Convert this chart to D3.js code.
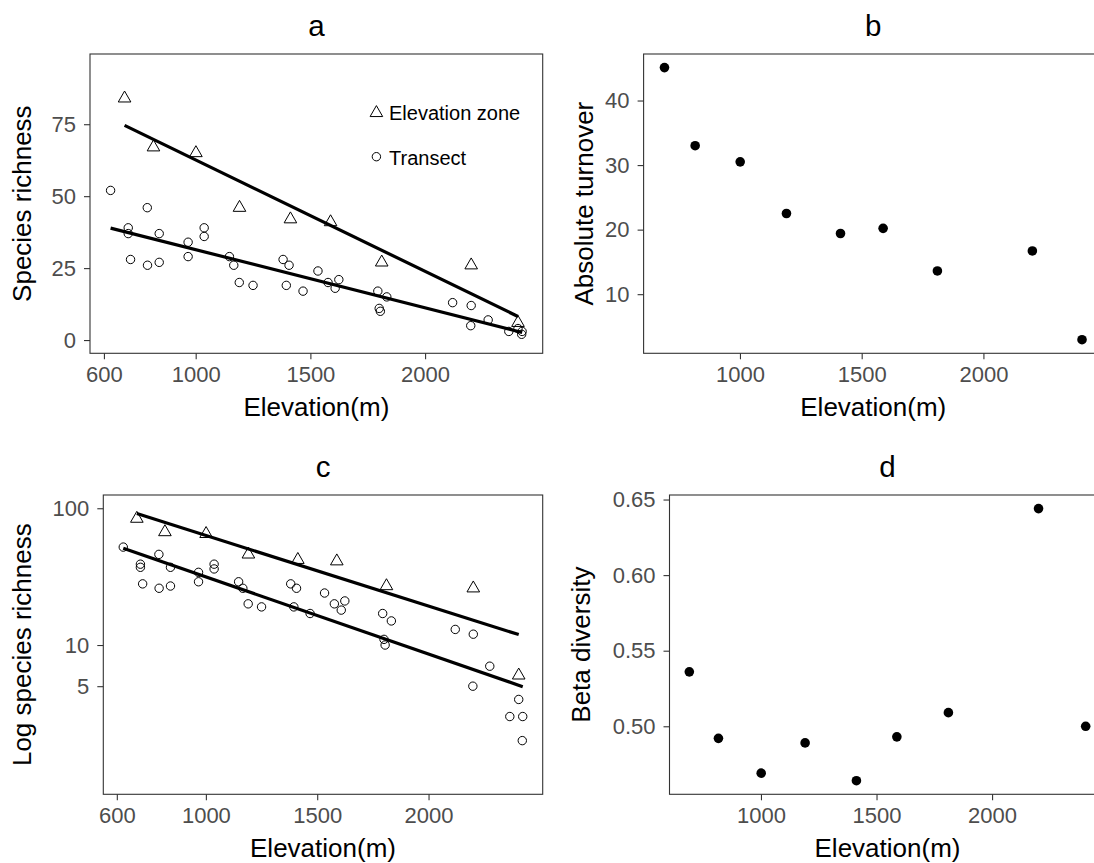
<!DOCTYPE html>
<html><head><meta charset="utf-8">
<script src="https://cdn.jsdelivr.net/npm/d3@7"></script>
<style>body{margin:0;background:#fff}svg{display:block}</style>
</head><body><svg id="c" width="1094" height="863"></svg>
<script>
// ---------- data ----------
const zoneElev = [690, 816, 1001, 1191, 1413, 1588, 1811, 2201, 2405];
const zoneRich = [84, 67, 65, 46, 42, 41, 27, 26, 6];
const transElev = [629,706,706,716,789,790,841,841,967,967,1037,1037,1147,1166,1190,1250,1381,1407,1395,1468,1533,1577,1624,1608,1794,1833,1800,1805,2120,2201,2199,2275,2365,2405,2423,2421];
const transRich = [52,39,37,28,46,26,37,27,34,29,39,36,29,26,20,19,28,26,19,17,24,20,21,18,17,15,11,10,13,12,5,7,3,4,3,2];
const turnover = [45.1, 33.0, 30.5, 22.5, 19.4, 20.2, 13.6, 16.7, 2.95];
const betaDiv = [0.536, 0.492, 0.469, 0.489, 0.464, 0.493, 0.509, 0.644, 0.500];
const ticksXAC = [600, 1000, 1500, 2000];
const ticksXBD = [1000, 1500, 2000];
const ticksYA = [0, 25, 50, 75];
const ticksYB = [10, 20, 30, 40];
const ticksYC = [5, 10, 100];
const ticksYD = [0.50, 0.55, 0.60, 0.65];
const yDomainA = [-4.6, 99.4];
const yDomainC = [0.81, 125];
const legendLabels = ["Elevation zone", "Transect"];

// ---------- setup ----------
const W = 1094, H = 863;
const FONT = '"Liberation Sans", Arial, sans-serif';
const svg = d3.select('#c');
svg.append('rect').attr('width', W).attr('height', H).attr('fill', '#fff');

function expand(arr){ const [a,b] = d3.extent(arr); const r = b-a; return [a-0.05*r, b+0.05*r]; }
function lm(xs, ys){
  const mx = d3.mean(xs), my = d3.mean(ys); let sxy=0, sxx=0;
  xs.forEach((x,i)=>{ sxy += (x-mx)*(ys[i]-my); sxx += (x-mx)*(x-mx); });
  const b = sxy/sxx; return {a: my-b*mx, b};
}
function triPath(cx, cy){
  const hw = 6.3, top = 7.3, bot = 3.65;
  return `M${cx},${cy-top}L${cx+hw},${cy+bot}L${cx-hw},${cy+bot}Z`;
}

const P = {
  a: {l: 90, r: 542.7, t: 54, b: 353.3, ylabX: 30.5},
  b: {l: 643.6, r: 1102.9, t: 54, b: 353.3, ylabX: 593},
  c: {l: 103.3, r: 542.7, t: 495, b: 794.3, ylabX: 31},
  d: {l: 669.5, r: 1105.5, t: 495, b: 794.3, ylabX: 589.5}
};

function frame(p, x, y, xticks, yticks, yfmt, title, ylab){
  const g = svg.append('g');
  const ax = d3.axisBottom(x).tickValues(xticks).tickSize(6).tickPadding(7).tickSizeOuter(0).tickFormat(d3.format('d'));
  g.append('g').attr('transform', `translate(0,${p.b})`).call(ax);
  const ay = d3.axisLeft(y).tickValues(yticks).tickSize(6).tickPadding(8).tickSizeOuter(0).tickFormat(yfmt);
  g.append('g').attr('transform', `translate(${p.l},0)`).call(ay);
  g.selectAll('.domain').remove();
  g.selectAll('.tick line').attr('stroke', '#333').attr('stroke-width', 1.1);
  g.selectAll('.tick text').attr('fill', '#4d4d4d').attr('font-family', FONT).attr('font-size', 22);
  g.append('rect').attr('x', p.l).attr('y', p.t).attr('width', p.r-p.l).attr('height', p.b-p.t)
    .attr('fill', 'none').attr('stroke', '#333').attr('stroke-width', 1.1);
  const cx = (p.l + p.r)/2;
  svg.append('text').attr('x', cx).attr('y', p.t - 18.3).attr('text-anchor', 'middle')
    .attr('font-family', FONT).attr('font-size', 29.5).attr('fill', '#000').text(title);
  svg.append('text').attr('x', cx).attr('y', p.b + 63).attr('text-anchor', 'middle')
    .attr('font-family', FONT).attr('font-size', 26).attr('fill', '#000').text('Elevation(m)');
  const cy = (p.t + p.b)/2;
  svg.append('text').attr('transform', `translate(${p.ylabX},${cy}) rotate(-90)`).attr('text-anchor', 'middle')
    .attr('font-family', FONT).attr('font-size', 26).attr('fill', '#000').text(ylab);
}

const xACdom = expand(transElev.concat(zoneElev));
const xBDdom = expand(zoneElev);

// ---------- panel a ----------
{
  const p = P.a;
  const x = d3.scaleLinear().domain(xACdom).range([p.l, p.r]);
  const y = d3.scaleLinear().domain(yDomainA).range([p.b, p.t]);
  frame(p, x, y, ticksXAC, ticksYA, d3.format('d'), 'a', 'Species richness');
  svg.append('g').selectAll('circle').data(transElev).join('circle')
    .attr('cx', (d)=>x(d)).attr('cy', (d,i)=>y(transRich[i])).attr('r', 4.2)
    .attr('fill', 'none').attr('stroke', '#000').attr('stroke-width', 1);
  svg.append('g').selectAll('path').data(zoneElev).join('path')
    .attr('d', (d,i)=>triPath(x(d), y(zoneRich[i])))
    .attr('fill', 'none').attr('stroke', '#000').attr('stroke-width', 1);
  [[zoneElev, zoneRich],[transElev, transRich]].forEach(([xs, ys])=>{
    const f = lm(xs, ys); const ext = d3.extent(xs);
    svg.append('path').datum(ext).attr('d', d3.line().x(d=>x(d)).y(d=>y(f.a+f.b*d)))
      .attr('stroke', '#000').attr('stroke-width', 3.2).attr('fill', 'none');
  });
  // legend
  const lx = 376.4;
  svg.append('path').attr('d', triPath(lx, 112.9)).attr('fill', 'none').attr('stroke', '#000');
  svg.append('circle').attr('cx', lx).attr('cy', 156.7).attr('r', 4.2).attr('fill', 'none').attr('stroke', '#000');
  svg.append('text').attr('x', 389).attr('y', 120.2).attr('font-family', FONT).attr('font-size', 20).text(legendLabels[0]);
  svg.append('text').attr('x', 389).attr('y', 164.5).attr('font-family', FONT).attr('font-size', 20).text(legendLabels[1]);
}

// ---------- panel b ----------
{
  const p = P.b;
  const x = d3.scaleLinear().domain(xBDdom).range([p.l, p.r]);
  const y = d3.scaleLinear().domain(expand(turnover)).range([p.b, p.t]);
  frame(p, x, y, ticksXBD, ticksYB, d3.format('d'), 'b', 'Absolute turnover');
  svg.append('g').selectAll('circle').data(zoneElev).join('circle')
    .attr('cx', d=>x(d)).attr('cy', (d,i)=>y(turnover[i])).attr('r', 4.8).attr('fill', '#000');
}

// ---------- panel c ----------
{
  const p = P.c;
  const x = d3.scaleLinear().domain(xACdom).range([p.l, p.r]);
  const y = d3.scaleLog().domain(yDomainC).range([p.b, p.t]);
  frame(p, x, y, ticksXAC, ticksYC, d3.format('d'), 'c', 'Log species richness');
  svg.append('g').selectAll('circle').data(transElev).join('circle')
    .attr('cx', d=>x(d)).attr('cy', (d,i)=>y(transRich[i])).attr('r', 4.2)
    .attr('fill', 'none').attr('stroke', '#000').attr('stroke-width', 1);
  svg.append('g').selectAll('path').data(zoneElev).join('path')
    .attr('d', (d,i)=>triPath(x(d), y(zoneRich[i])))
    .attr('fill', 'none').attr('stroke', '#000').attr('stroke-width', 1);
  [[zoneElev, zoneRich],[transElev, transRich]].forEach(([xs, ys])=>{
    const f = lm(xs, ys.map(v=>Math.log10(v))); const ext = d3.extent(xs);
    svg.append('path').datum(ext).attr('d', d3.line().x(d=>x(d)).y(d=>y(Math.pow(10, f.a+f.b*d))))
      .attr('stroke', '#000').attr('stroke-width', 3.2).attr('fill', 'none');
  });
}

// ---------- panel d ----------
{
  const p = P.d;
  const x = d3.scaleLinear().domain(xBDdom).range([p.l, p.r]);
  const y = d3.scaleLinear().domain(expand(betaDiv)).range([p.b, p.t]);
  frame(p, x, y, ticksXBD, ticksYD, d3.format('.2f'), 'd', 'Beta diversity');
  svg.append('g').selectAll('circle').data(zoneElev).join('circle')
    .attr('cx', d=>x(d)).attr('cy', (d,i)=>y(betaDiv[i])).attr('r', 4.8).attr('fill', '#000');
}
</script></body></html>
